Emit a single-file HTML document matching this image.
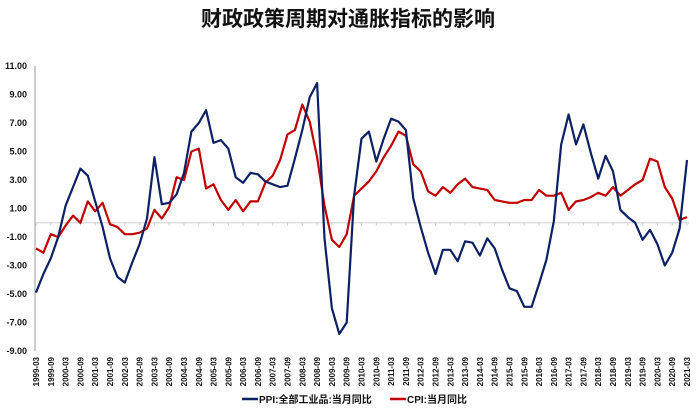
<!DOCTYPE html>
<html><head><meta charset="utf-8"><style>
body{margin:0;background:#fff;}
svg{display:block;font-family:"Liberation Sans","Noto Sans CJK SC",sans-serif;}
</style></head><body>
<svg id="chart" width="697" height="409" viewBox="0 0 697 409">
<text x="348" y="26" text-anchor="middle" font-size="21" font-weight="bold" font-family="'Noto Sans CJK SC',sans-serif" fill="#111">财政政策周期对通胀指标的影响</text>
<g id="axes"></g>
<g id="series"></g>
<g>
<line x1="242" y1="399" x2="258" y2="399" stroke="#0c2063" stroke-width="2.5"/>
<text x="259" y="403" font-size="10" font-weight="bold" fill="#111">PPI:全部工业品:当月同比</text>
<line x1="390" y1="399" x2="406" y2="399" stroke="#c00000" stroke-width="2.5"/>
<text x="407" y="403" font-size="10" font-weight="bold" fill="#111">CPI:当月同比</text>
</g>
</svg>
<script>
const yTicks=[11,9,7,5,3,1,-1,-3,-5,-7,-9];
const ppi=[-4.9,-3.6,-2.5,-1.0, 1.2,2.5,3.8,3.3, 1.5,-0.3,-2.5,-3.8, -4.2,-2.8,-1.5,0.3, 4.6,1.3,1.4,2.0, 3.5,6.4,7.0,7.9, 5.6,5.8,5.2,3.2, 2.8,3.5,3.4,2.9, 2.7,2.5,2.6,4.5, 6.5,8.8,9.8,-1.1, -6.0,-7.8,-7.0,1.9, 5.9,6.4,4.3,5.9, 7.3,7.1,6.5,1.7, -0.3,-2.1,-3.6,-1.9, -1.9,-2.7,-1.3,-1.4, -2.3,-1.1,-1.8,-3.3, -4.6,-4.8,-5.9,-5.9, -4.3,-2.6,0.1,5.5, 7.6,5.5,6.9,4.9, 3.1,4.7,3.6,0.9, 0.4,0.0,-1.2,-0.5, -1.5,-3.0,-2.1,-0.4, 4.4];
const cpi=[-1.8,-2.1,-0.8,-1.0, -0.2,0.5,0.0,1.5, 0.8,1.4,-0.1,-0.3, -0.8,-0.8,-0.7,-0.4, 0.9,0.3,1.1,3.2, 3.0,5.0,5.2,2.4, 2.7,1.6,0.9,1.6, 0.8,1.5,1.5,2.8, 3.3,4.4,6.2,6.5, 8.3,7.1,4.6,1.2, -1.2,-1.7,-0.8,1.9, 2.4,2.9,3.6,4.6, 5.4,6.4,6.1,4.1, 3.6,2.2,1.9,2.5, 2.1,2.7,3.1,2.5, 2.4,2.3,1.6,1.5, 1.4,1.4,1.6,1.6, 2.3,1.9,1.9,2.1, 0.9,1.5,1.6,1.8, 2.1,1.9,2.5,1.9, 2.3,2.7,3.0,4.5, 4.3,2.5,1.7,0.2, 0.4];
const xLabels=[];
for(let yr=1999;yr<=2021;yr++){xLabels.push(yr+'-03');if(yr<2021)xLabels.push(yr+'-09');}
const NS="http://www.w3.org/2000/svg";
const x0=36,x1=687,yTop=66,yBot=351,vMax=11,vMin=-9;
const totalMonths=264;
function xMonth(m){return x0+(x1-x0)*m/totalMonths;}
function yVal(v){return yTop+(vMax-v)/(vMax-vMin)*(yBot-yTop);}
function mk(tag,attrs,parent){const e=document.createElementNS(NS,tag);for(const k in attrs)e.setAttribute(k,attrs[k]);parent.appendChild(e);return e;}
const axes=document.getElementById('axes');
const yAxis=mk('line',{x1:35,y1:yTop,x2:35,y2:yBot,stroke:'#999','stroke-width':1},axes);


const zero=mk('line',{x1:35,y1:yVal(0),x2:x1+2,y2:yVal(0),stroke:'#d9d9d9','stroke-width':1.2},axes);


yTicks.forEach(v=>{
  const t=mk('text',{x:27,y:yVal(v)+3,'text-anchor':'end','font-size':9,'font-weight':'bold',fill:'#111'},axes);
  t.textContent=v.toFixed(2);
  
  
});
xLabels.forEach((lab,i)=>{
  const x=xMonth(i*6);
  const tk=mk('line',{x1:x,y1:yVal(0),x2:x,y2:yVal(0)+3,stroke:'#d0d0d0','stroke-width':1},axes);
  
  
  const t=mk('text',{x:0,y:0,'text-anchor':'end','font-size':8,'font-weight':'bold',fill:'#111',transform:`translate(${x+3},357) rotate(-90)`},axes);
  t.textContent=lab;
  
  
});
const series=document.getElementById('series');
function line(data,color,name){
  const d=data.map((v,i)=>(i?'L':'M')+xMonth(i*3).toFixed(1)+','+yVal(v).toFixed(1)).join(' ');
  const p=mk('path',{d:d,fill:'none',stroke:color,'stroke-width':2.2,'stroke-linejoin':'round'},series);
  
  
}
line(cpi,'#c00000','cpi-line');
line(ppi,'#0c2063','ppi-line');
</script>
</body></html>
